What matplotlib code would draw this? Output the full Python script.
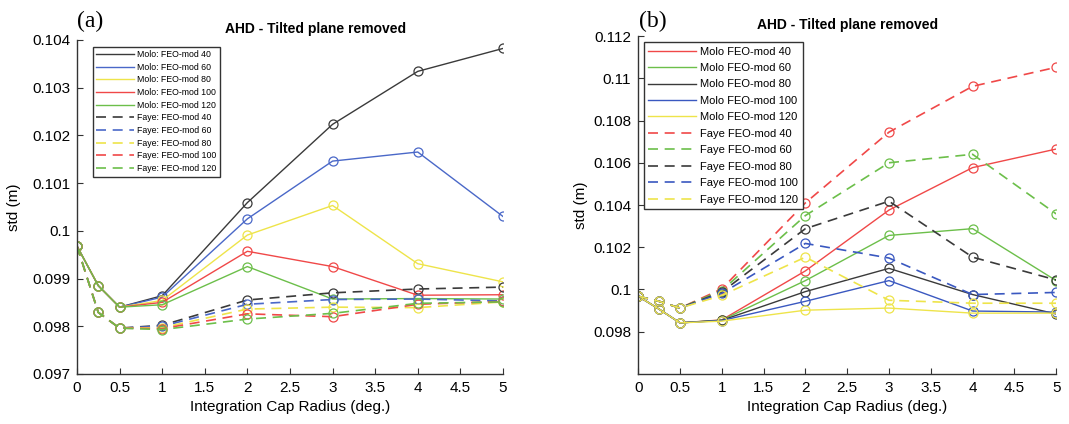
import matplotlib
matplotlib.use("Agg")
import matplotlib.pyplot as plt

plt.rcParams["font.family"] = ["Liberation Sans", "DejaVu Sans"]

x = [0, 0.25, 0.5, 1, 2, 3, 4, 5]
mods = [40, 60, 80, 100, 120]

# panel (a): Molo / Faye with colours black, blue, yellow, red, green
molo_a = [
    [0.09968, 0.09885, 0.09840, 0.09864, 0.10059, 0.10223, 0.10334, 0.10382],
    [0.09968, 0.09885, 0.09840, 0.09861, 0.10025, 0.10146, 0.10165, 0.10030],
    [0.09968, 0.09885, 0.09840, 0.09854, 0.09991, 0.10053, 0.09931, 0.09893],
    [0.09968, 0.09885, 0.09840, 0.09850, 0.09957, 0.09925, 0.09865, 0.09866],
    [0.09968, 0.09885, 0.09840, 0.09845, 0.09925, 0.09857, 0.09858, 0.09857],
]
faye_a = [
    [0.09968, 0.09829, 0.09796, 0.09802, 0.09855, 0.09870, 0.09878, 0.09882],
    [0.09968, 0.09829, 0.09796, 0.09800, 0.09846, 0.09856, 0.09857, 0.09853],
    [0.09968, 0.09829, 0.09796, 0.09797, 0.09836, 0.09840, 0.09839, 0.09851],
    [0.09968, 0.09829, 0.09796, 0.09795, 0.09826, 0.09820, 0.09846, 0.09852],
    [0.09968, 0.09829, 0.09796, 0.09793, 0.09815, 0.09827, 0.09848, 0.09851],
]
colors_a = ["#3a3a3a", "#4a68c8", "#eee44a", "#f04848", "#6cbf4a"]

# panel (b): colours red, green, black, blue, yellow
molo_b = [
    [0.09968, 0.09907, 0.09842, 0.09856, 0.10088, 0.10376, 0.10577, 0.10665],
    [0.09968, 0.09907, 0.09842, 0.09855, 0.10042, 0.10256, 0.10288, 0.10042],
    [0.09968, 0.09907, 0.09842, 0.09854, 0.09990, 0.10100, 0.09976, 0.09884],
    [0.09968, 0.09907, 0.09842, 0.09853, 0.09944, 0.10042, 0.09898, 0.09893],
    [0.09968, 0.09907, 0.09842, 0.09850, 0.09902, 0.09912, 0.09888, 0.09888],
]
faye_b = [
    [0.09968, 0.09944, 0.09912, 0.10003, 0.10410, 0.10745, 0.10962, 0.11052],
    [0.09968, 0.09944, 0.09912, 0.09995, 0.10350, 0.10600, 0.10640, 0.10358],
    [0.09968, 0.09944, 0.09912, 0.09988, 0.10288, 0.10418, 0.10153, 0.10045],
    [0.09968, 0.09944, 0.09912, 0.09982, 0.10218, 0.10149, 0.09976, 0.09986],
    [0.09968, 0.09944, 0.09912, 0.09972, 0.10153, 0.09949, 0.09935, 0.09935],
]
colors_b = ["#f04848", "#6cbf4a", "#3a3a3a", "#3a58c0", "#eee44a"]

xticks = [0, 0.5, 1, 1.5, 2, 2.5, 3, 3.5, 4, 4.5, 5]
xticklabels = ["0", "0.5", "1", "1.5", "2", "2.5", "3", "3.5", "4", "4.5", "5"]
yticks_a = [0.097, 0.098, 0.099, 0.1, 0.101, 0.102, 0.103, 0.104]
yticklabels_a = ["0.097", "0.098", "0.099", "0.1", "0.101", "0.102", "0.103", "0.104"]
yticks_b = [0.098, 0.1, 0.102, 0.104, 0.106, 0.108, 0.11, 0.112]
yticklabels_b = ["0.098", "0.1", "0.102", "0.104", "0.106", "0.108", "0.11", "0.112"]


def draw_panel(ax, molo, faye, colors, sep, ylim, yticks, yticklabels, title_x, ylabelpad):
    for vals, c, m in zip(molo, colors, mods):
        ax.plot(x, vals, "-", color=c, lw=1.0, marker="o", ms=6.5, mfc="none",
                mec=c, mew=0.9, label=f"Molo{sep} FEO-mod {m}")
    for vals, c, m in zip(faye, colors, mods):
        ax.plot(x, vals, "--", color=c, lw=1.2, dashes=(6, 4), marker="o", ms=6.5,
                mfc="none", mec=c, mew=0.9, label=f"Faye{sep} FEO-mod {m}")
    ax.set_xlim(0, 5)
    ax.set_ylim(*ylim)
    ax.set_xticks(xticks)
    ax.set_xticklabels(xticklabels)
    ax.set_yticks(yticks)
    ax.set_yticklabels(yticklabels)
    for s in ["top", "right"]:
        ax.spines[s].set_visible(False)
    for s in ["left", "bottom"]:
        ax.spines[s].set_color("#333333")
        ax.spines[s].set_linewidth(1.0)
    ax.tick_params(direction="in", length=4, labelsize=11, color="#333333", pad=5)
    ax.set_xlabel("Integration Cap Radius (deg.)", fontsize=11, labelpad=4)
    ax.set_ylabel("std (m)", fontsize=11, labelpad=ylabelpad)
    t = ax.set_title("AHD - Tilted plane removed", fontsize=10, fontweight="bold", pad=5)
    t.set_x(title_x)


def add_legend(ax, anchor, fontsize, labelspacing):
    leg = ax.legend(loc="upper left", bbox_to_anchor=anchor, fontsize=fontsize,
                    handlelength=4.3, handletextpad=0.35, labelspacing=labelspacing,
                    borderpad=0.4, fancybox=False, framealpha=1, borderaxespad=0)
    leg.get_frame().set_edgecolor("#333333")
    leg.get_frame().set_linewidth(1.0)
    for line in leg.get_lines():
        line.set_marker("None")
    return leg


fig = plt.figure(figsize=(10.69, 4.24), dpi=100)
ax1 = fig.add_axes([0.072, 0.118, 0.3985, 0.788])
ax2 = fig.add_axes([0.597, 0.118, 0.391, 0.797])

draw_panel(ax1, molo_a, faye_a, colors_a, ":", (0.097, 0.104), yticks_a, yticklabels_a, 0.56, 8)
draw_panel(ax2, molo_b, faye_b, colors_b, "", (0.096, 0.112), yticks_b, yticklabels_b, 0.5, 4)

add_legend(ax1, (0.037, 0.98), 6.3, 0.42)
add_legend(ax2, (0.014, 0.982), 8, 0.58)

fig.text(0.072, 0.95, "(a)", fontsize=17, family="Liberation Serif", va="center")
fig.text(0.598, 0.95, "(b)", fontsize=17, family="Liberation Serif", va="center")

fig.savefig("out.png", dpi=100)
